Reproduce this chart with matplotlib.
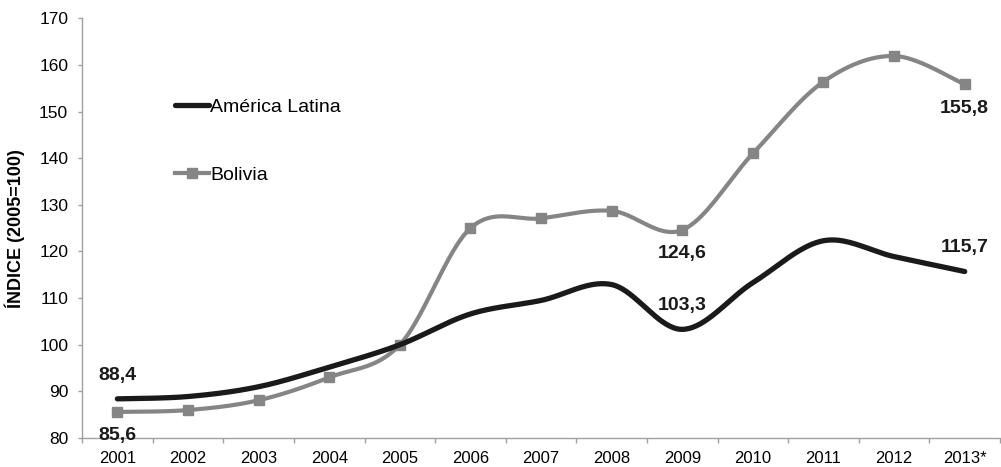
import numpy as np
import matplotlib.pyplot as plt

plt.rcParams['font.family'] = ['Liberation Sans', 'DejaVu Sans']

years = ['2001', '2002', '2003', '2004', '2005', '2006', '2007',
         '2008', '2009', '2010', '2011', '2012', '2013*']
america_latina = [88.4, 88.9, 91.0, 95.2, 100.0, 106.6, 109.5,
                  112.9, 103.3, 113.3, 122.3, 118.9, 115.7]
bolivia = [85.6, 86.0, 88.1, 93.0, 100.0, 125.0, 127.1,
           128.7, 124.6, 141.0, 156.4, 161.9, 155.8]

# etiquetas: (indice, valor, arriba/abajo)
labels = [(0, 88.4, 'up'), (0, 85.6, 'down'), (8, 124.6, 'down'),
          (8, 103.3, 'up'), (12, 115.7, 'up'), (12, 155.8, 'down')]


def smooth(y, n=40):
    # curva suavizada tipo Excel (bezier con tangentes catmull-rom)
    x = np.arange(len(y), dtype=float)
    y = np.asarray(y, dtype=float)
    px = np.concatenate([[x[0]], x, [x[-1]]])
    py = np.concatenate([[y[0]], y, [y[-1]]])
    xs, ys = [], []
    t = np.linspace(0, 1, n)
    for i in range(1, len(px) - 2):
        p0 = np.array([px[i], py[i]])
        p3 = np.array([px[i + 1], py[i + 1]])
        c1 = p0 + (p3 - np.array([px[i - 1], py[i - 1]])) / 6
        c2 = p3 - (np.array([px[i + 2], py[i + 2]]) - p0) / 6
        b = ((1 - t) ** 3)[:, None] * p0 + (3 * (1 - t) ** 2 * t)[:, None] * c1 \
            + (3 * (1 - t) * t ** 2)[:, None] * c2 + (t ** 3)[:, None] * p3
        xs.append(b[:, 0])
        ys.append(b[:, 1])
    return np.concatenate(xs), np.concatenate(ys)


fig = plt.figure(figsize=(10.01, 4.67), dpi=100)
ax = fig.add_axes([0.082, 0.062, 0.917, 0.899])

x = np.arange(len(years))
gx, gy = smooth(bolivia)
ax.plot(gx, gy, color='#858585', lw=3.0, solid_capstyle='round', zorder=2)
ax.plot(x, bolivia, ls='none', marker='s', ms=7.5, color='#858585', zorder=3)
bx, by = smooth(america_latina)
ax.plot(bx, by, color='#1a1a1a', lw=3.8, solid_capstyle='round', zorder=4)

# handles para la leyenda
h1, = ax.plot([], [], color='#1a1a1a', lw=3.8, solid_capstyle='round')
h2, = ax.plot([], [], color='#858585', lw=3.0, marker='s', ms=7.5)
ax.legend([h1, h2], ['América Latina', 'Bolivia'], loc='upper left',
          bbox_to_anchor=(0.091, 0.832), frameon=False, fontsize=14,
          handlelength=1.75, handletextpad=0.05, labelspacing=2.6,
          borderpad=0, numpoints=1)

for i, v, pos in labels:
    off = 17 if pos == 'up' else -17
    ax.annotate(f'{v:.1f}'.replace('.', ','), (i, v), xytext=(0, off),
                textcoords='offset points', ha='center', va='center',
                fontsize=14, fontweight='bold', color='#1a1a1a')

ax.set_xlim(-0.5, len(years) - 0.5)
ax.set_ylim(80, 170)
ax.set_yticks(np.arange(80, 171, 10))
ax.set_xticks(x)
ax.set_xticklabels(years)
ax.set_xticks(np.arange(-0.5, len(years), 1), minor=True)
ax.tick_params(axis='x', which='major', length=0, pad=9, labelsize=12)
ax.tick_params(axis='x', which='minor', length=3.6, color='#a0a0a0', width=1)
ax.tick_params(axis='y', length=3, color='#a0a0a0', width=1, labelsize=12.5, pad=7)
ax.set_ylabel('ÍNDICE (2005=100)', fontsize=13, fontweight='bold', labelpad=10)

for s in ['top', 'right']:
    ax.spines[s].set_visible(False)
for s in ['left', 'bottom']:
    ax.spines[s].set_color('#a0a0a0')
    ax.spines[s].set_linewidth(1)

fig.savefig('out.png', dpi=100)
